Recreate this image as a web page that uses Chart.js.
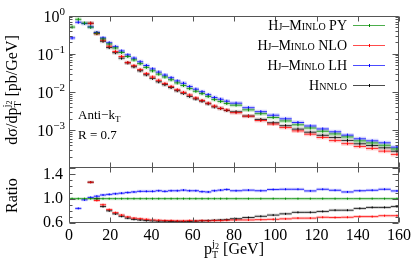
<!DOCTYPE html>
<html>
<head>
<meta charset="utf-8">
<script src="https://cdn.jsdelivr.net/npm/chart.js@4.4.0/dist/chart.umd.min.js"></script>
<style>
  html, body { margin: 0; padding: 0; background: #fff; }
  #wrap { width: 415px; height: 263px; }
</style>
</head>
<body>
<div id="wrap"><canvas id="myChart" width="415" height="263"></canvas></div>
<script>
// bin edges in pT (GeV)
var binEdges = [0,3,6,9,12,15,18,21,24,27,30,33,36,39,42,45,48,51,54,57,60,63,66,69,72,75,78,
                84,90,96,102,108,114,120,126,132,138,144,150,156,162];

// dsigma/dpT [pb/GeV], one value per bin
var hjPY = [0.50,0.80,0.636,0.497,0.346,0.245,0.181,0.142,0.108,0.0847,0.0691,0.0550,0.0439,0.0357,
            0.0292,0.0246,0.0208,0.0172,0.0147,0.0122,0.0104,0.00902,0.00763,0.00628,0.00563,0.00497,
            0.00449,0.00338,0.00268,0.00213,0.00173,0.00137,0.00113,0.00093,0.00079,0.00066,0.00052,
            0.00046,0.00040,0.00032];
var hjNLO = [null,null,null,0.63,0.336,0.226,0.158,0.114,0.0848,0.0588,0.0487,0.0384,0.0301,0.0245,
             0.0201,0.0165,0.0138,0.0114,0.0097,0.00828,0.00694,0.00595,0.00507,0.00425,0.00371,0.00335,
             0.00286,0.00231,0.00178,0.00144,0.00116,0.00095,0.00078,0.00064,0.00053,0.00044,0.00037,
             0.00033,0.00028,0.00023];
var hjLH = [0.260,0.669,0.623,0.507,0.360,0.260,0.194,0.153,0.118,0.0932,0.0767,0.0616,0.0492,0.0400,
            0.0330,0.0276,0.0235,0.0194,0.0168,0.0138,0.0118,0.0101,0.00847,0.00710,0.00642,0.00571,
            0.00507,0.00385,0.00303,0.00245,0.00197,0.00158,0.00128,0.00107,0.00090,0.000736,0.000590,
            0.000522,0.000463,0.000357];
var hnnlo = [null,null,null,0.631,0.346,0.213,0.145,0.1065,0.0767,0.0576,0.0456,0.0358,0.0281,0.0227,
             0.0184,0.0155,0.0130,0.01075,0.00919,0.00763,0.00655,0.00573,0.00488,0.00405,0.00366,0.00326,
             0.00301,0.00233,0.0019,0.00155,0.0013,0.00106,0.00088,0.00073,0.00064,0.000535,0.000437,
             0.000394,0.000342,0.000278];

// ratio to Hj-MiNLO PY
var ratioPY = [1,1,1,1,1,1,1,1,1,1,1,1,1,1,1,1,1,1,1,1,1,1,1,1,1,1,1,1,1,1,1,1,1,1,1,1,1,1,1,1];
var ratioNLO = [null,null,null,1.27,0.97,0.9,0.82,0.77,0.73,0.70,0.68,0.67,0.66,0.65,0.645,0.64,0.64,
                0.635,0.635,0.64,0.635,0.64,0.635,0.64,0.64,0.645,0.65,0.65,0.655,0.66,0.668,0.68,0.68,
                0.694,0.69,0.694,0.705,0.705,0.72,0.72];
var ratioLH = [0.52,0.84,0.98,1.02,1.04,1.06,1.07,1.08,1.09,1.10,1.11,1.12,1.12,1.12,1.13,1.12,1.13,
               1.13,1.14,1.13,1.13,1.115,1.11,1.13,1.14,1.15,1.13,1.14,1.13,1.15,1.154,1.154,1.127,
               1.154,1.138,1.11,1.13,1.138,1.154,1.127];
var ratioHNNLO = [null,null,null,1.27,1.0,0.87,0.8,0.75,0.71,0.68,0.66,0.65,0.64,0.635,0.63,0.63,0.625,
                  0.625,0.625,0.625,0.63,0.635,0.64,0.645,0.65,0.655,0.67,0.69,0.71,0.73,0.75,0.775,
                  0.775,0.79,0.81,0.81,0.84,0.856,0.856,0.87];

var xTicks = [0,20,40,60,80,100,120,140,160];
var logExps = [0,-1,-2,-3];
var ratioTicks = [0.6,1.0,1.4];

var seriesNames = ['Hj\u2013Minlo PY','Hj\u2013Minlo NLO','Hj\u2013Minlo LH','Hnnlo'];
var colors = ['#008c00','#ff0000','#0000ff','#000000'];
var bands = ['rgba(0,140,0,0.18)','rgba(255,0,0,0.18)','rgba(0,0,255,0.18)','rgba(0,0,0,0.15)'];

var FONT = "'Liberation Serif', 'DejaVu Serif', serif";

function segs(vals) {
    var out = [];
    vals.forEach(function (v, i) {
        if (v === null) return;
        out.push({x: binEdges[i], y: v}, {x: binEdges[i + 1], y: v}, {x: binEdges[i + 1], y: null});
    });
    return out;
}
function centers(vals) {
    var out = [];
    vals.forEach(function (v, i) {
        if (v === null) return;
        out.push({x: (binEdges[i] + binEdges[i + 1]) / 2, y: v});
    });
    return out;
}

var datasets = [];
function addSeries(vals, k, axis, bandWidth, pr) {
    datasets.push({
        data: segs(vals), yAxisID: axis, borderColor: bands[k], borderWidth: bandWidth,
        borderCapStyle: 'butt', pointRadius: 0, spanGaps: false, order: 3
    });
    datasets.push({
        data: segs(vals), yAxisID: axis, borderColor: colors[k], borderWidth: 0.8,
        pointRadius: 0, spanGaps: false, order: 2
    });
    datasets.push({
        data: centers(vals), yAxisID: axis, showLine: false, pointStyle: 'line', rotation: 90,
        pointRadius: pr, borderColor: colors[k], pointBorderWidth: 1, order: 1
    });
}
[hjPY, hjNLO, hjLH, hnnlo].forEach(function (s, k) { addSeries(s, k, 'y', 4, 1.5); });
[ratioPY, ratioNLO, ratioLH, ratioHNNLO].forEach(function (s, k) { addSeries(s, k, 'y2', 3, 1); });

function drawRich(ctx, parts, x, y, align) {
    var w = 0;
    parts.forEach(function (p) {
        ctx.font = p.size + 'px ' + FONT;
        p.w = ctx.measureText(p.t).width;
        if (p.adv !== false) w += p.w;
    });
    var cx = align === 'center' ? x - w / 2 : (align === 'right' ? x - w : x);
    ctx.textAlign = 'left';
    ctx.textBaseline = 'alphabetic';
    parts.forEach(function (p) {
        ctx.font = p.size + 'px ' + FONT;
        ctx.fillText(p.t, cx, y + (p.dy || 0));
        if (p.adv !== false) cx += p.w;
    });
}

var framePlugin = {
    id: 'frameTicks',
    afterDraw: function (chart) {
        var ctx = chart.ctx, a = chart.chartArea;
        var sx = chart.scales.x, sy = chart.scales.y, sr = chart.scales.y2;
        var L = Math.round(a.left) + 0.5, R = Math.round(a.right) - 0.5;
        var T = Math.round(a.top) + 0.5, B = Math.round(a.bottom) - 0.5;
        var M = Math.round(sy.bottom) - 0.5;
        ctx.save();
        ctx.strokeStyle = '#555';
        ctx.lineWidth = 1;
        ctx.beginPath();
        ctx.rect(L, T, R - L, B - T);
        ctx.moveTo(L, M); ctx.lineTo(R, M);
        // x ticks on both panels
        xTicks.forEach(function (v) {
            var px = Math.round(sx.getPixelForValue(v)) + 0.5;
            ctx.moveTo(px, B); ctx.lineTo(px, B - 5);
            ctx.moveTo(px, M); ctx.lineTo(px, M + 5);
            ctx.moveTo(px, M); ctx.lineTo(px, M - 5);
            ctx.moveTo(px, T); ctx.lineTo(px, T + 5);
        });
        // log ticks
        for (var e = -4; e <= 0; e++) {
            for (var m = 1; m <= 9; m++) {
                var val = m * Math.pow(10, e);
                if (val > 1) break;
                var py = Math.round(sy.getPixelForValue(val)) + 0.5;
                var len = m === 1 ? 6 : 3;
                ctx.moveTo(L, py); ctx.lineTo(L + len, py);
                ctx.moveTo(R, py); ctx.lineTo(R - len, py);
            }
        }
        // ratio ticks
        for (var r = 6; r <= 15; r++) {
            var pr = Math.round(sr.getPixelForValue(r / 10)) + 0.5;
            var l2 = (r % 4 === 2) ? 6 : 3;
            ctx.moveTo(L, pr); ctx.lineTo(L + l2, pr);
            ctx.moveTo(R, pr); ctx.lineTo(R - l2, pr);
        }
        ctx.stroke();

        ctx.fillStyle = '#000';
        // log tick labels
        logExps.forEach(function (ex) {
            var py = sy.getPixelForValue(Math.pow(10, ex));
            var expTxt = ex === 0 ? '0' : '\u2212' + (-ex);
            drawRich(ctx, [{t: '10', size: 16}, {t: expTxt, size: 11, dy: -7}], a.left - 4, py + 6, 'right');
        });

        // y titles
        ctx.save();
        ctx.translate(17, (a.top + sy.bottom) / 2 - 2);
        ctx.rotate(-Math.PI / 2);
        drawRich(ctx, [
            {t: 'd\u03c3/dp', size: 16},
            {t: 'T', size: 10, dy: 4, adv: false},
            {t: 'j', size: 11, dy: -7},
            {t: '2', size: 8, dy: -5},
            {t: ' [pb/GeV]', size: 16}
        ], 0, 0, 'center');
        ctx.restore();
        ctx.save();
        ctx.translate(17, (sr.top + sr.bottom) / 2);
        ctx.rotate(-Math.PI / 2);
        drawRich(ctx, [{t: 'Ratio', size: 16}], 0, 0, 'center');
        ctx.restore();

        // x title
        drawRich(ctx, [
            {t: 'p', size: 16},
            {t: 'T', size: 10, dy: 4, adv: false},
            {t: 'j', size: 11, dy: -7},
            {t: '2', size: 8, dy: -5},
            {t: ' [GeV]', size: 16}
        ], (a.left + a.right) / 2, 254, 'center');

        // annotation
        drawRich(ctx, [{t: 'Anti\u2212k', size: 13}, {t: 'T', size: 9, dy: 3}], a.left + 9, 119, 'left');
        drawRich(ctx, [{t: 'R = 0.7', size: 13}], a.left + 9, 139, 'left');

        // legend
        seriesNames.forEach(function (name, k) {
            var ly = 25 + k * 20;
            ctx.font = 'small-caps 14px ' + FONT;
            ctx.textAlign = 'right';
            ctx.textBaseline = 'alphabetic';
            ctx.fillStyle = '#000';
            ctx.fillText(name, 347, ly + 5);
            ctx.strokeStyle = colors[k];
            ctx.globalAlpha = 0.7;
            ctx.beginPath();
            ctx.moveTo(353, ly + 0.5); ctx.lineTo(385, ly + 0.5);
            ctx.stroke();
            ctx.globalAlpha = 1;
            ctx.beginPath();
            ctx.moveTo(369.5, ly - 1); ctx.lineTo(369.5, ly + 2);
            ctx.stroke();
        });
        ctx.restore();
    }
};

var ctx = document.getElementById('myChart');
var myChart = new Chart(ctx, {
    type: 'line',
    data: { datasets: datasets },
    options: {
        responsive: false,
        animation: false,
        devicePixelRatio: 1,
        layout: { padding: { top: 11, right: 16, left: 0, bottom: 0 } },
        plugins: { legend: { display: false }, tooltip: { enabled: false } },
        scales: {
            x: {
                type: 'linear', min: 0, max: 160,
                grid: { display: false, drawTicks: false },
                border: { display: false },
                ticks: { font: { family: FONT, size: 16 }, color: '#000', padding: 3, maxRotation: 0, autoSkip: false },
                afterBuildTicks: function (s) { s.ticks = xTicks.map(function (v) { return {value: v}; }); },
                afterFit: function (s) { s.height = 40; }
            },
            // ratio panel first: the stack places it at the bottom
            y2: {
                type: 'linear', min: 0.6, max: 1.5, position: 'left',
                stack: 'panels', stackWeight: 56,
                grid: { display: false, drawTicks: false },
                border: { display: false },
                ticks: {
                    font: { family: FONT, size: 16 }, color: '#000', padding: 6, autoSkip: false,
                    callback: function (v) { return v.toFixed(1); }
                },
                afterBuildTicks: function (s) { s.ticks = ratioTicks.map(function (v) { return {value: v}; }); },
                afterFit: function (s) { s.width = 69; }
            },
            y: {
                type: 'logarithmic', min: 1e-4, max: 1, position: 'left',
                stack: 'panels', stackWeight: 156,
                grid: { display: false, drawTicks: false },
                border: { display: false },
                ticks: { display: false },
                afterFit: function (s) { s.width = 69; }
            }
        }
    },
    plugins: [framePlugin]
});
</script>
</body>
</html>
